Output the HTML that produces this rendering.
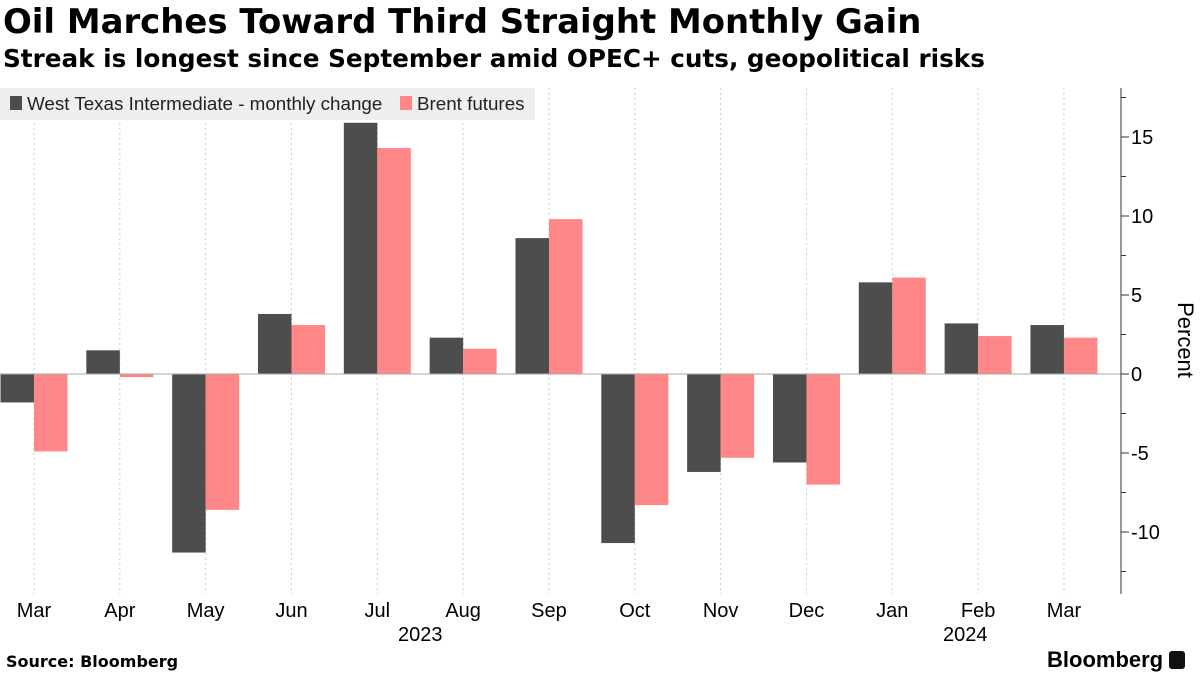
<!DOCTYPE html>
<html><head><meta charset="utf-8"><style>
body{margin:0;background:#fff;font-family:"Liberation Sans",sans-serif;}
#wrap{position:relative;width:1200px;height:675px;overflow:hidden;}
.t{position:absolute;white-space:nowrap;color:#000;}
</style></head><body>
<div id="wrap">
<div class="t" style="left:3px;top:2px;font-size:33.9px;font-weight:bold;font-family:'DejaVu Sans',sans-serif;">Oil Marches Toward Third Straight Monthly Gain</div>
<div class="t" style="left:3px;top:44px;font-size:24.7px;font-weight:bold;font-family:'DejaVu Sans',sans-serif;">Streak is longest since September amid OPEC+ cuts, geopolitical risks</div>
<svg id="svg" width="1200" height="675" style="position:absolute;left:0;top:0"></svg>
<div class="t" style="left:6px;top:652px;font-size:16px;font-weight:bold;font-family:'DejaVu Sans',sans-serif;">Source: Bloomberg</div>
<div class="t" style="left:1047px;top:647px;font-size:22px;font-weight:bold;">Bloomberg <span style="display:inline-block;width:16px;height:18px;background:#111;border-radius:3px;vertical-align:-2px;"></span></div>
</div>
<script>
const categories=["Mar","Apr","May","Jun","Jul","Aug","Sep","Oct","Nov","Dec","Jan","Feb","Mar"];
const wtiValues=[-1.8,1.5,-11.3,3.8,15.9,2.3,8.6,-10.7,-6.2,-5.6,5.8,3.2,3.1];
const brentValues=[-4.9,-0.2,-8.6,3.1,14.3,1.6,9.8,-8.3,-5.3,-7.0,6.1,2.4,2.3];
const yTicks=[15,10,5,0,-5,-10];
const yearLabels=[{text:"2023",idx:4.5},{text:"2024",idx:10.85}];
const NS="http://www.w3.org/2000/svg";
const svg=document.getElementById('svg');
const x0=34,step=85.83,zeroY=374,ppu=15.8,bw=33.5,axisX=1121,plotTop=88,plotBottom=594;
const xs=i=>x0+i*step;
const ys=v=>zeroY-v*ppu;
function mk(tag,attrs){const e=document.createElementNS(NS,tag);for(const k in attrs)e.setAttribute(k,attrs[k]);svg.appendChild(e);return e;}
categories.forEach((c,i)=>{
 const g=mk('line',{x1:xs(i),x2:xs(i),y1:plotTop,y2:plotBottom,stroke:'#ccc','stroke-dasharray':'2,3'});
 
 
});
const lg=mk('rect',{x:0,y:88,width:535,height:32,fill:'#efefef'});


[[10,'#4d4d4d','West Texas Intermediate - monthly change'],[400,'#ff8787','Brent futures']].forEach(([x,col,txt])=>{
 const r=mk('rect',{x:x,y:96,width:12,height:14,fill:col});
 
 
 const t=mk('text',{x:x+17,y:110,'font-size':18.8,'font-family':'Liberation Sans, sans-serif',fill:'#222'});t.textContent=txt;
 
 
});
categories.forEach((c,i)=>{
 const w=wtiValues[i],b=brentValues[i];
 const r1=mk('rect',{x:xs(i)-bw,y:Math.min(ys(w),zeroY),width:bw,height:Math.abs(ys(w)-zeroY),fill:'#4d4d4d'});
 
 
 const r2=mk('rect',{x:xs(i),y:Math.min(ys(b),zeroY),width:bw,height:Math.abs(ys(b)-zeroY),fill:'#ff8787'});
 
 
 const t=mk('text',{x:xs(i),y:617,'text-anchor':'middle','font-size':20,'font-family':'Liberation Sans, sans-serif'});t.textContent=c;
 
 
});
yearLabels.forEach(y=>{
 const t=mk('text',{x:xs(y.idx),y:641,'text-anchor':'middle','font-size':20,'font-family':'Liberation Sans, sans-serif'});t.textContent=y.text;
 
 
});
const z=mk('line',{x1:0,x2:axisX,y1:zeroY,y2:zeroY,stroke:'#aaa','stroke-width':1});


const ax=mk('line',{x1:axisX,x2:axisX,y1:plotTop,y2:plotBottom,stroke:'#333'});


for(let v=-12.5;v<=17.5;v+=2.5){
 const major=v%5===0;
 const tk=mk('line',{x1:axisX,x2:axisX+(major?8:5),y1:ys(v),y2:ys(v),stroke:'#333'});
 
 
}
yTicks.forEach(v=>{
 const t=mk('text',{x:1131,y:ys(v)+7,'font-size':20,'font-family':'Liberation Sans, sans-serif'});t.textContent=v;
 
 
});
const yt=mk('text',{x:1178,y:340,'font-size':22,'font-family':'Liberation Sans, sans-serif','text-anchor':'middle',transform:'rotate(90 1178 340)'});yt.textContent='Percent';


</script>
</body></html>
